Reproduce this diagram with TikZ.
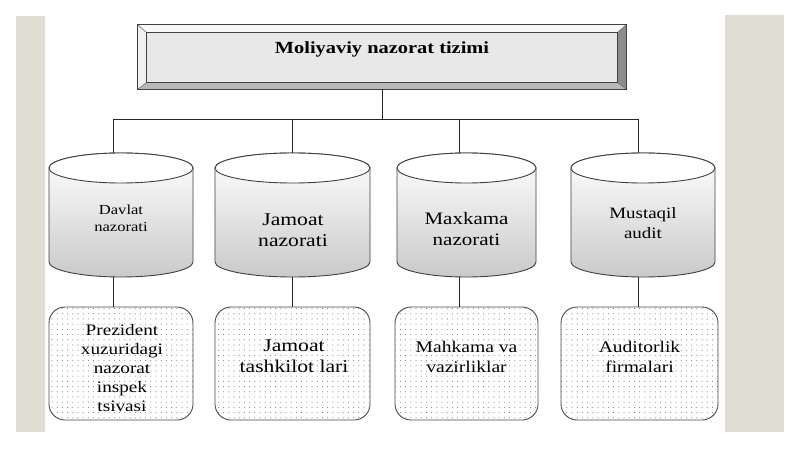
\documentclass[tikz,border=0pt]{standalone}
\usepackage{fontspec}
\setmainfont{Liberation Serif}[FakeStretch=1.2]
\usetikzlibrary{patterns.meta}
\definecolor{stripcol}{RGB}{224,221,210}
\newcommand\mycyl[3]{%
  \path[cylbody] (#1-#2,-#3-15) -- (#1-#2,-262)
    arc[start angle=180,end angle=360,x radius=#2,y radius=15]
    -- (#1+#2,-#3-15)
    arc[start angle=0,end angle=180,x radius=#2,y radius=15] -- cycle;
  \draw[cylcap] (#1,-#3-15) ellipse[x radius=#2,y radius=15];}
\newcommand\fs[2]{\fontsize{#1}{#2}\selectfont}
\begin{document}
\begin{tikzpicture}[x=1pt,y=1pt,
  conn/.style={draw=black!85, line width=0.9pt},
  cylbody/.style={draw=black!75, line width=0.9pt, top color=white, bottom color=black!21},
  cylcap/.style={draw=black!75, line width=0.9pt, fill=white},
  txt/.style={align=center, inner sep=0pt},
  dotbox/.style={draw=black!70, line width=0.9pt, rounded corners=16pt, fill=white,
    postaction={pattern={Dots[distance=5.2pt,radius=0.55pt]}, pattern color=black!50},
    minimum height=113pt, inner sep=0pt},
  topbox/.style={draw=black!75, line width=0.9pt, fill=black!9, minimum width=488pt,
    minimum height=64pt, inner sep=0pt}
  ]
\useasboundingbox (0,0) rectangle (800,-449);
\fill[white] (0,0) rectangle (800,-449);
\fill[stripcol] (16,-16) rectangle (45,-432);
\fill[stripcol] (725,-15) rectangle (784,-432);

% title box with bevel
\node[topbox] (top) at (382,-57) {};
\fill[black!3] (top.north west) -- (top.north east) -- ([shift={(-9,-8)}]top.north east) -- ([shift={(9,-8)}]top.north west) -- cycle;
\fill[black!6] (top.north west) -- ([shift={(9,-8)}]top.north west) -- ([shift={(9,7)}]top.south west) -- (top.south west) -- cycle;
\fill[black!45] (top.north east) -- ([shift={(-9,-8)}]top.north east) -- ([shift={(-9,7)}]top.south east) -- (top.south east) -- cycle;
\fill[black!28] (top.south west) -- ([shift={(9,7)}]top.south west) -- ([shift={(-9,7)}]top.south east) -- (top.south east) -- cycle;
\draw[black!60, line width=0.5pt] (top.north west) -- ([shift={(9,-8)}]top.north west)
  (top.north east) -- ([shift={(-9,-8)}]top.north east)
  (top.south west) -- ([shift={(9,7)}]top.south west)
  (top.south east) -- ([shift={(-9,7)}]top.south east);
\draw[black!75, line width=0.9pt, fill=black!9] ([shift={(9,-8)}]top.north west) rectangle ([shift={(-9,7)}]top.south east);
\draw[black!75, line width=0.9pt] (top.north west) rectangle (top.south east);
\node[txt, font=\bfseries\fs{17}{19}] (toptxt) at ([yshift=7.5]top.center) {Moliyaviy nazorat tizimi};

% cylinders
\mycyl{121}{72}{153}
\mycyl{292.5}{77.5}{153}
\mycyl{466.5}{69.5}{153}
\mycyl{643}{72}{153}
\node[txt, font=\fs{13.8}{17}] (c1) at (121,-218) {Davlat\\nazorati};
\node[txt, font=\fs{18}{21}] (c2) at (293,-230) {Jamoat\\nazorati};
\node[txt, font=\fs{17.5}{21}] (c3) at (466.5,-229) {Maxkama\\nazorati};
\node[txt, font=\fs{15.8}{20}] (c4) at (643,-223.5) {Mustaqil\\audit};

% dotted boxes
\node[dotbox, minimum width=144pt] (b1) at (121,-363.5) {};
\node[dotbox, minimum width=155pt] (b2) at (292.5,-363.5) {};
\node[dotbox, minimum width=143pt] (b3) at (466.5,-363.5) {};
\node[dotbox, minimum width=157pt] (b4) at (639.5,-363.5) {};
\node[txt, font=\fs{16}{19}] (t1) at (122,-368.5) {Prezident\\xuzuridagi\\nazorat\\inspek\\tsivasi};
\node[txt, font=\fs{18}{21}] (t2) at (294,-356.5) {Jamoat\\tashkilot lari};
\node[txt, font=\fs{16.3}{20}] (t3) at (466.5,-356.7) {Mahkama va\\vazirliklar};
\node[txt, font=\fs{16.3}{20}] (t4) at (639.5,-356.7) {Auditorlik\\firmalari};

% connectors
\coordinate (bus) at (382,-119);
\coordinate (j1) at (113,-119);
\coordinate (j2) at (292,-119);
\coordinate (j3) at (459,-119);
\coordinate (j4) at (638,-119);
\coordinate (k1) at (113,-153.2);
\coordinate (k2) at (292,-153);
\coordinate (k3) at (459,-153.2);
\coordinate (k4) at (638,-153.1);
\coordinate (m1) at (113,-277);
\coordinate (m2) at (292,-277);
\coordinate (m3) at (459,-277);
\coordinate (m4) at (638,-277);
\draw[conn] (top.south) -- (bus);
\draw[conn] (j1) -- (j4);
\foreach \i in {1,2,3,4}{
  \draw[conn] (j\i) -- (k\i);
  \draw[conn] (m\i) -- (m\i |- b\i.north);
}
\end{tikzpicture}
\end{document}
